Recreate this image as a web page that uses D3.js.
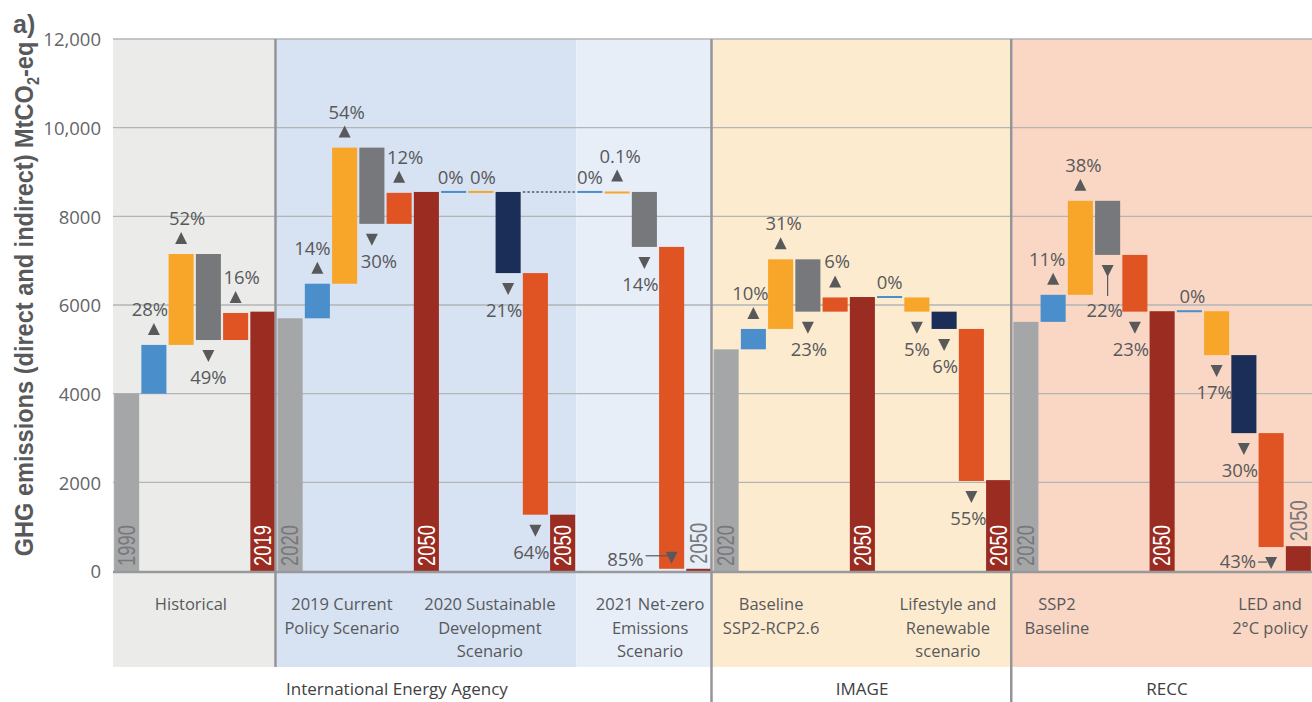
<!DOCTYPE html>
<html><head><meta charset="utf-8">
<script src="https://cdn.jsdelivr.net/npm/d3@7"></script>
<style>body{margin:0;background:#fff;} svg{display:block;}</style>
</head><body><svg id="chart" width="1312" height="702"></svg>
<script>
// ---------------- DATA ----------------
// one slot per bar, left to right
const slotKind = [
  "base","pop","floor","energy","carbon","end",
  "base","pop","floor","energy","carbon","end",
  "pop","floor","suff","carbon","end",
  "pop","floor","energy","carbon","end",
  "base","pop","floor","energy","carbon","end",
  "pop","floor","suff","carbon","end",
  "base","pop","floor","energy","carbon","end",
  "pop","floor","suff","carbon","end"
];
// waterfall start / end values (MtCO2-eq)
const valueFrom = [
  0,4000,5100,7150,5210,0,
  0,5700,6480,9550,7830,0,
  8550,8550,8550,6720,0,
  8550,8550,8550,7310,0,
  0,5000,5460,7030,5850,0,
  6180,6170,5850,5460,0,
  0,5620,6230,8350,7130,0,
  5860,5860,4870,3110,0
];
const valueTo = [
  4000,5100,7150,5210,5820,5850,
  5700,6480,9550,7830,8530,8550,
  8550,8550,6720,1270,1270,
  8550,8560,7310,50,50,
  5000,5460,7030,5850,6170,6180,
  6180,5850,5460,2030,2050,
  5620,6230,8350,7130,5850,5860,
  5860,4870,3110,540,560
];
const pctLabels = [
  "","28%","52%","49%","16%","",
  "","14%","54%","30%","12%","",
  "0%","0%","21%","64%","",
  "0%","0.1%","14%","85%","",
  "","10%","31%","23%","6%","",
  "0%","5%","6%","55%","",
  "","11%","38%","22%","23%","",
  "0%","17%","30%","43%",""
];
const yearLabels = [
  "1990","","","","","2019",
  "2020","","","","","2050",
  "","","","","2050",
  "","","","","2050",
  "2020","","","","","2050",
  "","","","","2050",
  "2020","","","","","2050",
  "","","","","2050"
];
const tickValues = [0,2000,4000,6000,8000,10000,12000];
const tickLabels = ["0","2000","4000","6000","8000","10,000","12,000"];
const scenarioLabels = [
  ["Historical"],
  ["2019 Current","Policy Scenario"],
  ["2020 Sustainable","Development","Scenario"],
  ["2021 Net-zero","Emissions","Scenario"],
  ["Baseline","SSP2-RCP2.6"],
  ["Lifestyle and","Renewable","scenario"],
  ["SSP2","Baseline"],
  ["LED and","2°C policy"]
];
const groupLabels = ["International Energy Agency","IMAGE","RECC"];
const yTitle = "GHG emissions (direct and indirect) MtCO";

// ---------------- LAYOUT / STYLE ----------------
const colors = {base:"#a5a6a8", end:"#9b2c21", pop:"#4a8ecb", floor:"#f8a62a",
                energy:"#76787b", carbon:"#e05424", suff:"#1b2e57"};
const regions = [
  {from:0, to:6, fill:"#ebecea"},
  {from:6, to:17, fill:"#d7e2f2"},
  {from:17, to:22, fill:"#e7eef8"},
  {from:22, to:33, fill:"#fdebd0"},
  {from:33, to:44, fill:"#f9d7c4"}
];
const separators = [{at:6, y2:667},{at:22, y2:702},{at:33, y2:702}];
const scenarioPos = [2.86, 8.40, 13.83, 19.71, 24.15, 30.64, 34.64, 42.46];
const groupPos = [10.42, 27.49, 38.68];
const labelLayout = {
  1:{dx:-4}, 2:{dx:6}, 4:{dx:6},
  7:{dx:-5}, 8:{dx:2}, 9:{dx:7}, 10:{dx:6},
  12:{dx:-3}, 13:{dx:2}, 14:{dx:-4}, 15:{dx:-4},
  18:{dx:3}, 19:{dx:-4},
  20:{mode:"left", triTop:-17, textX:-28, textDy:-3, leaderY:-13},
  23:{dx:-3}, 24:{dx:3}, 25:{dx:1}, 26:{dx:2}, 30:{dx:1}, 31:{dx:-3},
  34:{dx:-6}, 35:{dx:3}, 36:{dx:-3, vLeader:41, textDy:62}, 37:{dx:-4},
  39:{dx:3}, 40:{dx:-2}, 41:{dx:-4},
  42:{mode:"left", triTop:10, textX:-15, textDy:21, leaderY:15}
};
const textCol = "#58595b";
const FONT = "'Open Sans', sans-serif";
const COND = "'Liberation Sans', Arial, sans-serif";

// squeeze a text horizontally (in its own frame) to a target length (condensed look)
function condense(sel, base, targetLen){
  const len = sel.node().getComputedTextLength();
  const s = len > 0 ? targetLen/len : 1;
  sel.attr("transform", base + ` scale(${s},1)`);
}

// ---------------- DRAW ----------------
const svg = d3.select("#chart");
const n = slotKind.length;
const x = d3.scaleBand().domain(d3.range(n)).range([113,1312]).paddingInner(0.08).paddingOuter(0.04);
const xs = d3.scaleLinear().domain([0,n]).range([113,1312]);
const y = d3.scaleLinear().domain([0,12000]).range([571,39]);
const bw = x.bandwidth();

// backgrounds
svg.append("g").selectAll("rect").data(regions).join("rect")
  .attr("x", d=>xs(d.from)).attr("width", d=>xs(d.to)-xs(d.from))
  .attr("y", 39).attr("height", 667-39).attr("fill", d=>d.fill);

// gridlines
svg.append("g").selectAll("line").data(tickValues.filter(v=>v>0)).join("line")
  .attr("x1",113).attr("x2",1312).attr("y1",d=>y(d)).attr("y2",d=>y(d))
  .attr("stroke","#b2b4b6").attr("stroke-width",1.4);

// y axis labels
const yAxis = d3.axisLeft(y).tickValues(tickValues).tickFormat((d,i)=>tickLabels[i]).tickSize(0).tickPadding(0);
const ga = svg.append("g").attr("transform","translate(101,0)").call(yAxis);
ga.select(".domain").remove();
ga.selectAll("text").attr("font-family",FONT).attr("font-size",18.5).attr("fill","#646567").attr("dy","0.36em");

// bars
svg.append("g").selectAll("rect").data(d3.range(n)).join("rect")
  .attr("x", i=>x(i)).attr("width", bw)
  .attr("y", i=> valueFrom[i]===valueTo[i] ? y(valueTo[i])-1 : y(Math.max(valueFrom[i],valueTo[i])))
  .attr("height", i=> Math.max(2, Math.abs(y(valueFrom[i])-y(valueTo[i]))))
  .attr("fill", i=>colors[slotKind[i]]);

// dotted reference line in SDS
svg.append("line").attr("x1", x(15)).attr("x2", x(16)+bw)
  .attr("y1", y(valueFrom[14])).attr("y2", y(valueFrom[14]))
  .attr("stroke", textCol).attr("stroke-width",1.5).attr("stroke-dasharray","2.5,2");

// zero line
svg.append("line").attr("x1",113).attr("x2",1312).attr("y1",572).attr("y2",572)
  .attr("stroke","#97999b").attr("stroke-width",2.6);

// percentage labels + triangles
const gl = svg.append("g");
function tri(cx, base, apex){
  gl.append("path").attr("d", `M${cx-6},${base}L${cx+6},${base}L${cx},${apex}Z`).attr("fill", textCol);
}
pctLabels.forEach((lab,i)=>{
  if(!lab) return;
  const L = labelLayout[i] || {};
  const cx = x(i)+bw/2;
  const a = valueFrom[i], b = valueTo[i];
  const dir = Math.sign(b-a);
  const top = y(Math.max(a,b)), bot = y(Math.min(a,b));
  let tx = cx + (L.dx||0), ty, anchor = "middle";
  if (dir>0){
    tri(cx, top-10, top-22);
    ty = top + (L.textDy ?? -29);
  } else if (dir<0){
    const t0 = bot + (L.triTop ?? 10);
    tri(cx, t0, t0+12);
    ty = bot + (L.textDy ?? 44);
    if (L.mode==="left"){
      anchor = "end"; tx = cx + L.textX;
      gl.append("line").attr("x1", tx+2).attr("x2", cx-4).attr("y1", bot+L.leaderY).attr("y2", bot+L.leaderY)
        .attr("stroke", textCol).attr("stroke-width",1.2);
    }
    if (L.vLeader){
      gl.append("line").attr("x1", cx).attr("x2", cx).attr("y1", t0+11).attr("y2", bot+L.vLeader)
        .attr("stroke", textCol).attr("stroke-width",1.2);
    }
  } else {
    ty = y(a) + (L.textDy ?? -8);
  }
  gl.append("text").attr("x", tx).attr("y", ty).attr("text-anchor", anchor)
    .attr("font-family", FONT).attr("font-size", 18.5).attr("fill", textCol).text(lab);
});

// year labels on bars (condensed)
yearLabels.forEach((lab,i)=>{
  if(!lab) return;
  const top = y(valueTo[i]);
  const inside = (571-top) >= 50;
  const cx = x(i)+bw/2;
  const ys = inside ? 566 : top-5;
  const fill = inside ? (slotKind[i]==="base" ? "#77787b" : "#ffffff") : "#77787b";
  const t = svg.append("text")
    .attr("dy","0.36em").attr("text-anchor","start")
    .attr("font-family", COND).attr("font-size", 23).attr("fill", fill).text(lab);
  condense(t, `translate(${cx},${ys}) rotate(-90)`, 41);
});

// separators
svg.append("g").selectAll("line").data(separators).join("line")
  .attr("x1", d=>xs(d.at)-1).attr("x2", d=>xs(d.at)-1).attr("y1",39).attr("y2", d=>d.y2)
  .attr("stroke","#939598").attr("stroke-width",2.5);

// scenario labels
const baselines = [610, 633.5, 657];
scenarioLabels.forEach((lines,k)=>{
  const t = svg.append("text").attr("text-anchor","middle").attr("font-family",FONT)
    .attr("font-size",16.5).attr("fill",textCol);
  lines.forEach((ln,j)=> t.append("tspan").attr("x", xs(scenarioPos[k])).attr("y", baselines[j]).text(ln));
});
// group labels
groupLabels.forEach((g,k)=>{
  svg.append("text").attr("x", xs(groupPos[k])).attr("y", 695).attr("text-anchor","middle")
    .attr("font-family",FONT).attr("font-size",17).attr("fill","#414042").text(g);
});

// y title (condensed bold)
const tt = svg.append("text")
  .attr("text-anchor","middle").attr("font-family",COND).attr("font-weight","bold")
  .attr("font-size",26).attr("fill",textCol);
tt.append("tspan").text(yTitle);
tt.append("tspan").attr("dy",6).attr("font-size",16).text("2");
tt.append("tspan").attr("dy",-6).text("-eq");
condense(tt, "translate(33,299) rotate(-90)", 515);

// panel letter
svg.append("text").attr("x",13).attr("y",33).attr("font-family",COND).attr("font-weight","bold")
  .attr("font-size",25).attr("fill",textCol).text("a)");
</script></body></html>
